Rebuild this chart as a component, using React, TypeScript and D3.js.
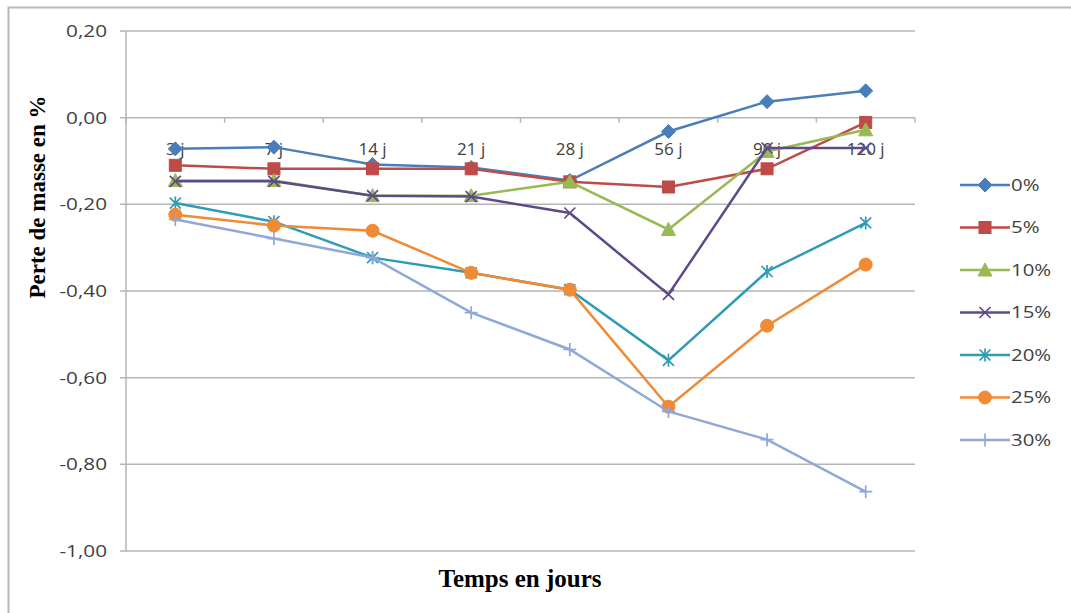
import * as d3 from 'd3'

const categories = ['3 j', '7 j', '14 j', '21 j', '28 j', '56 j', '90 j', '120 j']
const seriesNames = ['0%', '5%', '10%', '15%', '20%', '25%', '30%']
const s0 = [-0.072, -0.068, -0.108, -0.115, -0.145, -0.032, 0.037, 0.062]
const s5 = [-0.11, -0.118, -0.118, -0.118, -0.148, -0.16, -0.118, -0.011]
const s10 = [-0.145, -0.145, -0.18, -0.18, -0.148, -0.258, -0.078, -0.028]
const s15 = [-0.147, -0.147, -0.18, -0.182, -0.22, -0.408, -0.07, -0.07]
const s20 = [-0.197, -0.24, -0.323, -0.358, -0.397, -0.56, -0.355, -0.243]
const s25 = [-0.224, -0.249, -0.261, -0.358, -0.397, -0.667, -0.48, -0.339]
const s30 = [-0.235, -0.279, -0.323, -0.45, -0.535, -0.678, -0.743, -0.863]
const yTicks = [0.2, 0, -0.2, -0.4, -0.6, -0.8, -1.0]

const allSeries = [s0, s5, s10, s15, s20, s25, s30]
const colors = ['#4A7EBB', '#BE4B48', '#98B954', '#5E4A8A', '#2F9CB6', '#F08A35', '#8EA8D8']
const markers = ['diamond', 'square', 'triangle', 'x', 'asterisk', 'circle', 'plus']

const W = 1071
const H = 613
const margin = { top: 31, left: 126, right: 156, bottom: 62 }
const tickFont = 'Open Sans, Liberation Sans, sans-serif'
const titleFont = 'Liberation Serif, Times New Roman, serif'

function Marker({ kind, x, y, color }: { kind: string; x: number; y: number; color: string }) {
  const r = 5.5
  if (kind === 'diamond') {
    return <path d={`M${x},${y - 7}L${x + 7},${y}L${x},${y + 7}L${x - 7},${y}Z`} fill={color} stroke={color} />
  }
  if (kind === 'square') {
    return <rect x={x - 6} y={y - 6} width={12} height={12} fill={color} stroke={color} />
  }
  if (kind === 'triangle') {
    return <path d={`M${x},${y - 7}L${x + 7},${y + 6}L${x - 7},${y + 6}Z`} fill={color} stroke={color} />
  }
  if (kind === 'circle') {
    return <circle cx={x} cy={y} r={6.5} fill={color} stroke={color} />
  }
  if (kind === 'x') {
    return (
      <path d={`M${x - r},${y - r}L${x + r},${y + r}M${x - r},${y + r}L${x + r},${y - r}`} stroke={color} strokeWidth={1.7} />
    )
  }
  if (kind === 'asterisk') {
    return (
      <path
        d={`M${x - r},${y - r}L${x + r},${y + r}M${x - r},${y + r}L${x + r},${y - r}M${x},${y - r - 1}L${x},${y + r + 1}`}
        stroke={color}
        strokeWidth={1.7}
      />
    )
  }
  return <path d={`M${x - r - 1},${y}L${x + r + 1},${y}M${x},${y - r - 1}L${x},${y + r + 1}`} stroke={color} strokeWidth={1.7} />
}

// Excel-like label: Calibri is not installed, so Open Sans is widened a little
function Label({ x, y, anchor, size, sx, children }: { x: number; y: number; anchor: string; size: number; sx: number; children: string }) {
  return (
    <g transform={`translate(${x},${y}) scale(${sx},1)`}>
      <text x={0} y={0} dy="0.35em" textAnchor={anchor} fontSize={size} fill="#404040" fontFamily={tickFont}>
        {children}
      </text>
    </g>
  )
}

export default function App() {
  const x = d3
    .scaleBand<string>()
    .domain(categories)
    .range([margin.left, W - margin.right])
  const y = d3.scaleLinear().domain([-1, 0.2]).range([H - margin.bottom, margin.top])
  const cx = (i: number) => x(categories[i])! + x.bandwidth() / 2

  const line = d3
    .line<number>()
    .x((_, i) => cx(i))
    .y(d => y(d))

  const boundaries = d3.range(categories.length + 1).map(i => margin.left + i * x.step())

  return (
    <div style={{ position: 'absolute', left: 0, top: 0 }}>
      <svg width={W} height={H} style={{ display: 'block' }}>
        <rect x={0} y={0} width={W} height={H} fill="#ffffff" />
        <rect x={8.5} y={7.5} width={W} height={H} fill="none" stroke="#b8b8b8" strokeWidth={2} />

        {/* grid lines and value labels */}
        {yTicks.map(t => (
          <g key={t}>
            <line x1={margin.left - 6} x2={W - margin.right} y1={y(t)} y2={y(t)} stroke="#b5b5b5" strokeWidth={1.5} />
            <Label x={margin.left - 19} y={y(t)} anchor="end" size={17} sx={1.22}>
              {t.toFixed(2).replace('.', ',')}
            </Label>
          </g>
        ))}
        <line x1={margin.left} x2={margin.left} y1={y(0.2)} y2={y(-1)} stroke="#b5b5b5" strokeWidth={1.5} />

        {/* category axis crossing at 0 */}
        {boundaries.map((b, i) => (
          <line key={i} x1={b} x2={b} y1={y(0)} y2={y(0) + 5} stroke="#b5b5b5" strokeWidth={1.5} />
        ))}
        {categories.map((c, i) => (
          <Label key={c} x={cx(i)} y={y(0) + 31} anchor="middle" size={17} sx={1.0}>
            {c}
          </Label>
        ))}

        {/* series */}
        {allSeries.map((s, k) => (
          <g key={k}>
            <path d={line(s)!} fill="none" stroke={colors[k]} strokeWidth={2.5} />
            {s.map((v, i) => (
              <Marker key={i} kind={markers[k]} x={cx(i)} y={y(v)} color={colors[k]} />
            ))}
          </g>
        ))}

        {/* legend */}
        {seriesNames.map((n, k) => {
          const ly = 185 + k * 42.5
          return (
            <g key={n}>
              <line x1={960} x2={1010} y1={ly} y2={ly} stroke={colors[k]} strokeWidth={2.5} />
              <Marker kind={markers[k]} x={985} y={ly} color={colors[k]} />
              <Label x={1011} y={ly} anchor="start" size={17} sx={1.2}>
                {n}
              </Label>
            </g>
          )
        })}

        {/* axis titles */}
        <text
          transform={`translate(45,197) rotate(-90)`}
          textAnchor="middle"
          fontSize={23}
          fontWeight="bold"
          fontFamily={titleFont}
          fill="#000"
        >
          Perte de masse en %
        </text>
        <text x={520} y={587} textAnchor="middle" fontSize={25} fontWeight="bold" fontFamily={titleFont} fill="#000">
          Temps en jours
        </text>
      </svg>
    </div>
  )
}
